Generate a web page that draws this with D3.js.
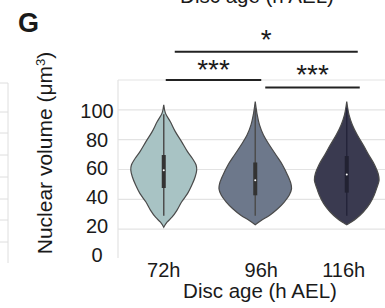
<!DOCTYPE html>
<meta charset="utf-8" />
<style>
  body { margin: 0; background: #fff; }
  text { font-family: "Liberation Sans", Arial, Helvetica, sans-serif; fill: #1a1a1a; }
</style>
<svg width="385" height="308"></svg>
<script src="https://d3js.org/d3.v7.min.js"></script>
<script>
  var svg = d3.select("svg");
  var width = +svg.attr("width");
  var height = +svg.attr("height");

  // categories and colours
  var ages = ["72h", "96h", "116h"];
  var fills = ["#a8c3c4", "#6d788b", "#3a3a50"];

  // violin outlines: value (um3) and relative density
  var v72 = [103.4, 97.8, 92, 85.4, 78.7, 72, 67.4, 63, 59.5, 55, 49.4, 43.8, 38.2, 32.6, 28, 24.7, 21.3];
  var d72 = [0, 1.7, 6.7, 11.7, 18, 24, 29, 32.7, 33.3, 31.7, 28.3, 24, 18, 13.3, 8.3, 3.3, 0];
  var v96 = [105.6, 96.6, 89.9, 83.1, 76.4, 69.7, 62.9, 56.2, 50.6, 47.2, 42.7, 38.2, 33.7, 29.2, 25.8, 22.9];
  var d96 = [0, 2, 4.3, 8.3, 14.3, 21, 27.7, 32.7, 36, 36.7, 34.3, 29.3, 22.7, 14.3, 6, 0];
  var v116 = [105.6, 96.6, 89.9, 83.1, 76.4, 69.7, 62.9, 57.3, 52.8, 48.3, 42.7, 37.1, 31.5, 27, 24.3, 22.9];
  var d116 = [0, 2.3, 5.7, 10.7, 16.7, 22.3, 28.3, 31.7, 32.7, 30.7, 27.7, 23.3, 16.7, 9.3, 3.3, 0];

  // inner box stats
  var q1 = [47.6, 42.7, 44.5];
  var median = [59.5, 52.8, 56.6];
  var q3 = [69.7, 64.7, 69];
  var whiskLo = [29, 29, 29];
  var whiskHi = [97, 101, 101];

  var yTicks = [0, 20, 40, 60, 80, 100];
  var gridVals = [20, 40, 60, 80, 100, 120];

  // significance brackets
  var sigFrom = ["72h", "72h", "96h"];
  var sigTo = ["116h", "96h", "116h"];
  var sigLevel = [139, 120, 115];
  var sigText = ["*", "***", "***"];

  var x = d3.scaleBand().domain(ages).range([118, 392.5]);
  var bw = x.bandwidth();
  var cx = function(a) { return x(a) + bw / 2; };
  var y = d3.scaleLinear().domain([0, 120]).range([259, 80]);
  var yLab = d3.scaleLinear().domain([0, 100]).range([254.5, 110.5]);
  var w = d3.scaleLinear().domain([0, 37]).range([0, bw * 0.4]);

  // leftover of the neighbouring panel at the left edge
  var left = svg.append("g").attr("stroke", "#dedede").attr("stroke-width", 1);
  [83, 112, 133, 155, 177, 199, 220, 242].forEach(function(yy) {
    left.append("line").attr("x1", 0).attr("x2", 8).attr("y1", yy).attr("y2", yy);
  });
  left.append("line").attr("x1", 8).attr("x2", 8).attr("y1", 83).attr("y2", 263);

  // grid
  var grid = svg.append("g");
  grid.selectAll("line.h")
    .data(gridVals)
    .enter()
    .append("line")
    .attr("x1", 118).attr("x2", width)
    .attr("y1", d => y(d)).attr("y2", d => y(d))
    .attr("stroke", "#e3e3e3").attr("stroke-width", 1.2);
  grid.append("line")
    .attr("x1", 118).attr("x2", 118)
    .attr("y1", y(120)).attr("y2", y(0) - 1)
    .attr("stroke", "#e3e3e3").attr("stroke-width", 1.2);

  // y tick labels
  svg.append("g")
    .selectAll("text")
    .data(yTicks)
    .enter()
    .append("text")
    .attr("x", 97)
    .attr("y", d => yLab(d) + 7.2)
    .attr("text-anchor", "middle")
    .style("font-size", "20px")
    .text(d => d);

  // violins
  var vals = [v72, v96, v116];
  var dens = [d72, d96, d116];
  var violin = d3.area()
    .y(d => y(d[0]))
    .x0(d => -w(d[1]))
    .x1(d => w(d[1]))
    .curve(d3.curveCatmullRom.alpha(0.5));

  ages.forEach(function(a, i) {
    var pts = vals[i].map((v, j) => [v, dens[i][j]]);
    var g = svg.append("g").attr("transform", "translate(" + cx(a) + ",0)");
    g.append("path")
      .attr("d", violin(pts))
      .attr("fill", fills[i])
      .attr("stroke", "#4a4a4a")
      .attr("stroke-width", 1.2);
    g.append("line")
      .attr("x1", 0).attr("x2", 0)
      .attr("y1", y(whiskHi[i])).attr("y2", y(whiskLo[i]))
      .attr("stroke", i == 2 ? "#24243a" : "#4d4d4d").attr("stroke-width", 1.5);
    g.append("rect")
      .attr("x", -2).attr("width", 4)
      .attr("y", y(q3[i])).attr("height", y(q1[i]) - y(q3[i]))
      .attr("fill", i == 2 ? "#222232" : "#333");
    g.append("circle")
      .attr("cx", 0).attr("cy", y(median[i])).attr("r", 1)
      .attr("fill", "#fff");
  });

  // x tick labels
  var labShift = [0, 6, -3];
  svg.append("g")
    .selectAll("text")
    .data(ages)
    .enter()
    .append("text")
    .attr("x", (d, i) => cx(d) + labShift[i])
    .attr("y", 277)
    .attr("text-anchor", "middle")
    .style("font-size", "20px")
    .text(d => d);

  // axis titles
  svg.append("text")
    .attr("x", 260).attr("y", 298)
    .attr("text-anchor", "middle")
    .style("font-size", "20.5px")
    .text("Disc age (h AEL)");

  svg.append("text")
    .attr("x", 257).attr("y", 3)
    .attr("text-anchor", "middle")
    .style("font-size", "20.5px")
    .text("Disc age (h AEL)");

  var yt = svg.append("text")
    .attr("transform", "translate(51.5,153) rotate(-90)")
    .attr("text-anchor", "middle")
    .style("font-size", "21px");
  yt.append("tspan").text("Nuclear volume (\u03bcm");
  yt.append("tspan").attr("dy", -7).style("font-size", "13px").text("3");
  yt.append("tspan").attr("dy", 7).text(")");

  // panel letter
  svg.append("text")
    .attr("x", 18).attr("y", 32)
    .style("font-size", "27px")
    .style("font-weight", "bold")
    .text("G");

  // significance brackets
  var sigOff = [[11, 11], [2, 6], [10, 13]];
  var sigDy = [-3, -1, -3];
  sigText.forEach(function(t, i) {
    var x1 = cx(sigFrom[i]) + sigOff[i][0];
    var x2 = cx(sigTo[i]) + sigOff[i][1];
    svg.append("line")
      .attr("x1", x1).attr("x2", x2)
      .attr("y1", y(sigLevel[i])).attr("y2", y(sigLevel[i]))
      .attr("stroke", "#222").attr("stroke-width", 2);
    svg.append("text")
      .attr("x", (x1 + x2) / 2)
      .attr("y", y(sigLevel[i]) + sigDy[i])
      .attr("text-anchor", "middle")
      .style("font-size", "28px")
      .text(t);
  });
</script>
